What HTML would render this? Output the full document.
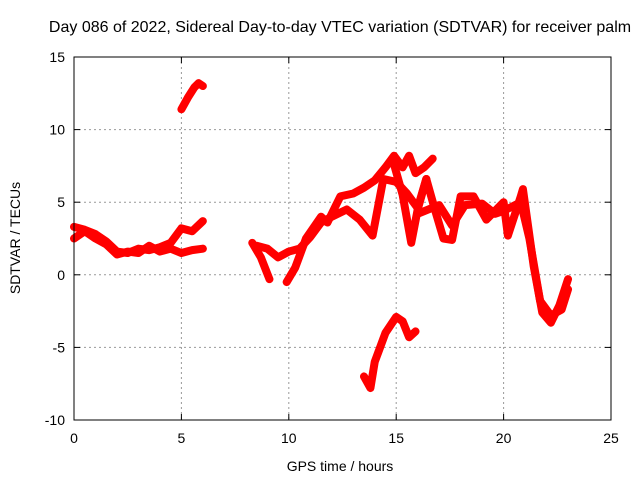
<!DOCTYPE html>
<html><head><meta charset="utf-8"><style>
body{margin:0;background:#fff}
svg{display:block;font-family:"Liberation Sans",sans-serif}
</style></head><body>
<svg id="c" width="640" height="480">
<rect width="640" height="480" fill="#fff"/>
<g id="grid"></g><g id="series"></g><g id="axes"></g>
<text x="340" y="32" font-size="16" text-anchor="middle">Day 086 of 2022, Sidereal Day-to-day VTEC variation (SDTVAR) for receiver palm</text>
<text x="340" y="471" font-size="14" text-anchor="middle">GPS time / hours</text>
<text transform="translate(20,238) rotate(-90)" font-size="14" text-anchor="middle">SDTVAR / TECUs</text>
</svg>
<script>
const xTicks=[0,5,10,15,20,25];
const yTicks=[-10,-5,0,5,10,15];
const sA=[[0,3.3],[0.5,3.1],[1,2.8],[1.5,2.3],[2,1.6],[2.5,1.5],[3,1.8],[3.5,1.7],[4,1.9],[4.5,2.2],[5,3.2],[5.5,3.0],[6,3.7]];
const sA2=[[0,2.5],[0.5,3.0],[1,2.5],[1.5,2.1],[2,1.4],[2.5,1.6],[3,1.5],[3.5,2.0],[4,1.6],[4.5,1.8],[5,1.5],[5.5,1.7],[6,1.8]];
const sB=[[5.0,11.4],[5.3,12.2],[5.6,12.9],[5.8,13.2],[6.0,13.0]];
const sC=[[8.3,2.2],[8.7,1.2],[9.1,-0.3]];
const sC2=[[8.5,2.0],[9,1.8],[9.5,1.2],[10,1.6],[10.5,1.8],[11,2.6],[11.5,3.6],[12,4.0],[12.7,4.5],[13.3,3.8],[13.9,2.7],[14.4,6.6],[15,6.4],[15.5,5.6],[16,4.6],[16.4,6.6]];
const sC3=[[9.9,-0.5],[10.3,0.5],[10.8,2.5],[11.5,4.0],[11.8,3.6],[12.4,5.4],[13,5.6],[13.5,6.0],[14,6.5],[14.5,7.4],[14.9,8.2],[15.3,7.4],[15.6,8.2],[15.9,7.0],[16.3,7.4],[16.7,8.0]];
const sE=[[14.9,7.6],[15.3,5.5],[15.7,2.2],[16.0,4.5],[16.4,6.6],[16.8,4.5],[17.2,2.5],[17.6,2.4],[18,5.4],[18.6,5.4],[19.2,3.8],[20,5.0],[20.2,2.7],[20.8,5.4],[20.9,5.9],[21.4,0.6],[21.8,-2.6],[22.2,-3.3],[22.6,-2.1],[23,-0.3]];
const sE2=[[16,4.2],[17,4.8],[17.6,3.4],[18.2,4.8],[19,4.9],[19.6,4.2],[20,4.4],[20.8,5.0],[21.2,2.5],[21.7,-1.8],[22.2,-2.8],[22.7,-2.4],[23,-1.0]];
const sD=[[13.5,-7.0],[13.8,-7.8],[14,-6.0],[14.5,-4.0],[15,-2.9],[15.3,-3.2],[15.6,-4.3],[15.9,-3.9]];
const L=74,R=611,T=57,B=420;
const X=h=>L+(h-0)/25*(R-L);
const Y=v=>B-(v+10)/25*(B-T);
const ns="http://www.w3.org/2000/svg";
function mk(tag,at,parent){const e=document.createElementNS(ns,tag);for(const k in at)e.setAttribute(k,at[k]);document.getElementById(parent).appendChild(e);return e;}
xTicks.forEach(t=>{
 if(t>0&&t<25){const g=mk('line',{x1:X(t),x2:X(t),y1:T,y2:B,stroke:'#999','stroke-dasharray':'2,3'},'grid');
 
 }
 const tk=mk('line',{x1:X(t),x2:X(t),y1:B,y2:B-6,stroke:'#000'},'axes');
 
 
 mk('line',{x1:X(t),x2:X(t),y1:T,y2:T+6,stroke:'#000'},'axes');
 const lb=mk('text',{x:X(t),y:B+23,'font-size':14,'text-anchor':'middle'},'axes');lb.textContent=t;
 
 
});
yTicks.forEach(t=>{
 if(t>-10&&t<15){const g=mk('line',{x1:L,x2:R,y1:Y(t),y2:Y(t),stroke:'#999','stroke-dasharray':'2,3'},'grid');
 
 }
 const tk=mk('line',{x1:L,x2:L+6,y1:Y(t),y2:Y(t),stroke:'#000'},'axes');
 
 
 mk('line',{x1:R,x2:R-6,y1:Y(t),y2:Y(t),stroke:'#000'},'axes');
 const lb=mk('text',{x:L-9,y:Y(t)+5,'font-size':14,'text-anchor':'end'},'axes');lb.textContent=t;
 
 
});
const fr=mk('rect',{x:L,y:T,width:R-L,height:B-T,fill:'none',stroke:'#000'},'axes');


[sA,sA2,sB,sC,sC2,sC3,sE,sE2,sD].forEach(s=>{
 const p=mk('polyline',{points:s.map(d=>X(d[0])+','+Y(d[1])).join(' '),fill:'none',stroke:'#f00','stroke-width':8,'stroke-linejoin':'round','stroke-linecap':'round'},'series');
 
 
});
</script>
</body></html>
